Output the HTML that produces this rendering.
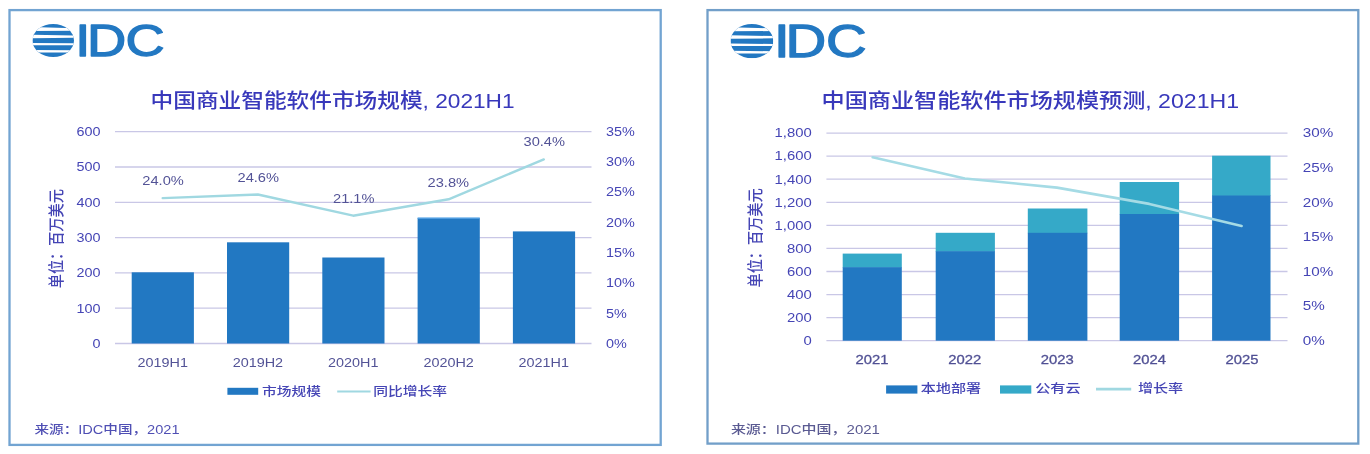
<!DOCTYPE html>
<html lang="zh-CN"><head><meta charset="utf-8"><title>IDC 中国商业智能软件市场</title>
<style>html,body{margin:0;padding:0;background:#fff}body{width:1370px;height:454px;overflow:hidden}svg{display:block}text{font-family:'Liberation Sans', 'Noto Sans CJK SC', sans-serif;}</style>
</head><body>
<svg width="1370" height="454" viewBox="0 0 1370 454" font-family='"Liberation Sans", "Noto Sans CJK SC", sans-serif'>
<defs><filter id="soft" x="-2%" y="-2%" width="104%" height="104%"><feGaussianBlur stdDeviation="0.7"/></filter></defs>
<rect width="1370" height="454" fill="#fff"/>
<g filter="url(#soft)">
<rect x="9.50" y="10.10" width="651.20" height="434.80" fill="#fff" stroke="#72a4d2" stroke-width="2.3"/>
<clipPath id="g32"><ellipse cx="53.2" cy="40.5" rx="20.8" ry="16.5"/></clipPath>
<g clip-path="url(#g32)">
<rect x="32.5" y="24" width="41.5" height="33" fill="#2478c2"/>
<polygon points="31.5,27.04 75.0,28.19 75.0,30.77 31.5,31.09" fill="#fff"/>
<polygon points="31.5,34.73 75.0,35.62 75.0,37.86 31.5,38.36" fill="#fff"/>
<polygon points="31.5,42.88 75.0,43.24 75.0,45.19 31.5,45.28" fill="#fff"/>
<polygon points="31.5,49.91 75.0,50.27 75.0,52.55 31.5,52.55" fill="#fff"/>
</g>
<text transform="translate(0,55.85) scale(1.21,1)" x="62.30 71.84 103.81" y="0" font-size="44.91" fill="#2478c2" stroke="#2478c2" stroke-width="1.3" stroke-linejoin="round">IDC</text>
<text x="150.6" y="107.6" font-size="20" fill="#3838bb" font-weight="500" textLength="364.0" lengthAdjust="spacingAndGlyphs" text-anchor="start">中国商业智能软件市场规模, 2021H1</text>
<line x1="115" x2="591.5" y1="343.5" y2="343.5" stroke="#c9c7e6" stroke-width="1.3"/>
<text transform="translate(100.6,347.8) scale(1.2,1)" font-size="12" fill="#4545b5" text-anchor="end">0</text>
<line x1="115" x2="591.5" y1="308.2" y2="308.2" stroke="#c9c7e6" stroke-width="1.3"/>
<text transform="translate(100.6,312.5) scale(1.2,1)" font-size="12" fill="#4545b5" text-anchor="end">100</text>
<line x1="115" x2="591.5" y1="272.9" y2="272.9" stroke="#c9c7e6" stroke-width="1.3"/>
<text transform="translate(100.6,277.2) scale(1.2,1)" font-size="12" fill="#4545b5" text-anchor="end">200</text>
<line x1="115" x2="591.5" y1="237.6" y2="237.6" stroke="#c9c7e6" stroke-width="1.3"/>
<text transform="translate(100.6,241.9) scale(1.2,1)" font-size="12" fill="#4545b5" text-anchor="end">300</text>
<line x1="115" x2="591.5" y1="202.3" y2="202.3" stroke="#c9c7e6" stroke-width="1.3"/>
<text transform="translate(100.6,206.6) scale(1.2,1)" font-size="12" fill="#4545b5" text-anchor="end">400</text>
<line x1="115" x2="591.5" y1="167.0" y2="167.0" stroke="#c9c7e6" stroke-width="1.3"/>
<text transform="translate(100.6,171.3) scale(1.2,1)" font-size="12" fill="#4545b5" text-anchor="end">500</text>
<line x1="115" x2="591.5" y1="131.7" y2="131.7" stroke="#c9c7e6" stroke-width="1.3"/>
<text transform="translate(100.6,136.0) scale(1.2,1)" font-size="12" fill="#4545b5" text-anchor="end">600</text>
<text transform="translate(606.0,347.8) scale(1.2,1)" font-size="12" fill="#4545b5" text-anchor="start">0%</text>
<text transform="translate(606.0,317.5) scale(1.2,1)" font-size="12" fill="#4545b5" text-anchor="start">5%</text>
<text transform="translate(606.0,287.2) scale(1.2,1)" font-size="12" fill="#4545b5" text-anchor="start">10%</text>
<text transform="translate(606.0,256.9) scale(1.2,1)" font-size="12" fill="#4545b5" text-anchor="start">15%</text>
<text transform="translate(606.0,226.7) scale(1.2,1)" font-size="12" fill="#4545b5" text-anchor="start">20%</text>
<text transform="translate(606.0,196.4) scale(1.2,1)" font-size="12" fill="#4545b5" text-anchor="start">25%</text>
<text transform="translate(606.0,166.1) scale(1.2,1)" font-size="12" fill="#4545b5" text-anchor="start">30%</text>
<text transform="translate(606.0,135.8) scale(1.2,1)" font-size="12" fill="#4545b5" text-anchor="start">35%</text>
<rect x="131.7" y="272.3" width="62.2" height="71.2" fill="#2478c2"/>
<rect x="227.0" y="242.3" width="62.2" height="101.2" fill="#2478c2"/>
<rect x="322.3" y="257.5" width="62.2" height="86.0" fill="#2478c2"/>
<rect x="417.6" y="218.0" width="62.2" height="125.5" fill="#2478c2"/>
<rect x="417.6" y="217.4" width="62.2" height="1.4" fill="#5aa6e6"/>
<rect x="512.9" y="231.4" width="62.2" height="112.1" fill="#2478c2"/>
<polyline fill="none" stroke="#a0d8e1" stroke-width="2.4" stroke-linejoin="round" stroke-linecap="round" points="162.7,198.1 257.9,194.5 353.2,215.7 448.6,199.3 543.8,159.4"/>
<text x="142.3" y="184.8" font-size="12" fill="#525296" textLength="41.5" lengthAdjust="spacingAndGlyphs" text-anchor="start">24.0%</text>
<text x="237.5" y="181.5" font-size="12" fill="#525296" textLength="41.5" lengthAdjust="spacingAndGlyphs" text-anchor="start">24.6%</text>
<text x="333.0" y="203.0" font-size="12" fill="#525296" textLength="41.5" lengthAdjust="spacingAndGlyphs" text-anchor="start">21.1%</text>
<text x="427.6" y="186.7" font-size="12" fill="#525296" textLength="41.5" lengthAdjust="spacingAndGlyphs" text-anchor="start">23.8%</text>
<text x="523.5" y="146.2" font-size="12" fill="#525296" textLength="41.5" lengthAdjust="spacingAndGlyphs" text-anchor="start">30.4%</text>
<text transform="translate(162.7,366.5) scale(1.2,1)" font-size="12" fill="#525296" text-anchor="middle">2019H1</text>
<text transform="translate(257.9,366.5) scale(1.2,1)" font-size="12" fill="#525296" text-anchor="middle">2019H2</text>
<text transform="translate(353.2,366.5) scale(1.2,1)" font-size="12" fill="#525296" text-anchor="middle">2020H1</text>
<text transform="translate(448.6,366.5) scale(1.2,1)" font-size="12" fill="#525296" text-anchor="middle">2020H2</text>
<text transform="translate(543.8,366.5) scale(1.2,1)" font-size="12" fill="#525296" text-anchor="middle">2021H1</text>
<text transform="translate(62.3,288.2) rotate(-90) scale(1.09,1.2)" font-size="13" font-weight="500" fill="#4545b5">单位：百万美元</text>
<rect x="227.4" y="387.8" width="30.8" height="7" fill="#2478c2"/>
<text x="262.0" y="395.6" font-size="12" fill="#4545b5" font-weight="500" textLength="59.0" lengthAdjust="spacingAndGlyphs" text-anchor="start">市场规模</text>
<line x1="337.2" x2="370.6" y1="391.6" y2="391.6" stroke="#a0d8e1" stroke-width="2"/>
<text x="373.2" y="395.6" font-size="12" fill="#4545b5" font-weight="500" textLength="74.0" lengthAdjust="spacingAndGlyphs" text-anchor="start">同比增长率</text>
<text x="34.5" y="434.3" font-size="12" fill="#5050b4" font-weight="500" textLength="145.0" lengthAdjust="spacingAndGlyphs" text-anchor="start">来源：IDC中国，2021</text>
<rect x="707.50" y="10.10" width="650.80" height="433.50" fill="#fff" stroke="#729fc9" stroke-width="2.3"/>
<clipPath id="g730"><ellipse cx="751.9" cy="41.1" rx="21.4" ry="17.1"/></clipPath>
<g clip-path="url(#g730)">
<rect x="730.5" y="24" width="42.7" height="34.2" fill="#2478c2"/>
<polygon points="729.5,27.15 774.2,28.34 774.2,31.01 729.5,31.35" fill="#fff"/>
<polygon points="729.5,35.12 774.2,36.04 774.2,38.36 729.5,38.88" fill="#fff"/>
<polygon points="729.5,43.56 774.2,43.94 774.2,45.96 729.5,46.06" fill="#fff"/>
<polygon points="729.5,50.85 774.2,51.22 774.2,53.58 729.5,53.58" fill="#fff"/>
</g>
<text transform="translate(0,56.95) scale(1.22,1)" x="634.51 643.83 676.98" y="0" font-size="46.22" fill="#2478c2" stroke="#2478c2" stroke-width="1.3" stroke-linejoin="round">IDC</text>
<text x="821.6" y="108.2" font-size="20.4" fill="#3838bb" font-weight="500" textLength="417.5" lengthAdjust="spacingAndGlyphs" text-anchor="start">中国商业智能软件市场规模预测, 2021H1</text>
<line x1="826.4" x2="1287.5" y1="340.7" y2="340.7" stroke="#c9c7e6" stroke-width="1.3"/>
<text transform="translate(811.8,345.0) scale(1.24,1)" font-size="12" fill="#4545b5" text-anchor="end">0</text>
<line x1="826.4" x2="1287.5" y1="317.6" y2="317.6" stroke="#c9c7e6" stroke-width="1.3"/>
<text transform="translate(811.8,321.9) scale(1.24,1)" font-size="12" fill="#4545b5" text-anchor="end">200</text>
<line x1="826.4" x2="1287.5" y1="294.6" y2="294.6" stroke="#c9c7e6" stroke-width="1.3"/>
<text transform="translate(811.8,298.9) scale(1.24,1)" font-size="12" fill="#4545b5" text-anchor="end">400</text>
<line x1="826.4" x2="1287.5" y1="271.5" y2="271.5" stroke="#c9c7e6" stroke-width="1.3"/>
<text transform="translate(811.8,275.8) scale(1.24,1)" font-size="12" fill="#4545b5" text-anchor="end">600</text>
<line x1="826.4" x2="1287.5" y1="248.4" y2="248.4" stroke="#c9c7e6" stroke-width="1.3"/>
<text transform="translate(811.8,252.7) scale(1.24,1)" font-size="12" fill="#4545b5" text-anchor="end">800</text>
<line x1="826.4" x2="1287.5" y1="225.3" y2="225.3" stroke="#c9c7e6" stroke-width="1.3"/>
<text transform="translate(811.8,229.7) scale(1.24,1)" font-size="12" fill="#4545b5" text-anchor="end">1,000</text>
<line x1="826.4" x2="1287.5" y1="202.3" y2="202.3" stroke="#c9c7e6" stroke-width="1.3"/>
<text transform="translate(811.8,206.6) scale(1.24,1)" font-size="12" fill="#4545b5" text-anchor="end">1,200</text>
<line x1="826.4" x2="1287.5" y1="179.2" y2="179.2" stroke="#c9c7e6" stroke-width="1.3"/>
<text transform="translate(811.8,183.5) scale(1.24,1)" font-size="12" fill="#4545b5" text-anchor="end">1,400</text>
<line x1="826.4" x2="1287.5" y1="156.1" y2="156.1" stroke="#c9c7e6" stroke-width="1.3"/>
<text transform="translate(811.8,160.4) scale(1.24,1)" font-size="12" fill="#4545b5" text-anchor="end">1,600</text>
<line x1="826.4" x2="1287.5" y1="133.1" y2="133.1" stroke="#c9c7e6" stroke-width="1.3"/>
<text transform="translate(811.8,137.4) scale(1.24,1)" font-size="12" fill="#4545b5" text-anchor="end">1,800</text>
<text transform="translate(1302.8,345.0) scale(1.27,1)" font-size="12" fill="#4545b5" text-anchor="start">0%</text>
<text transform="translate(1302.8,310.4) scale(1.27,1)" font-size="12" fill="#4545b5" text-anchor="start">5%</text>
<text transform="translate(1302.8,275.8) scale(1.27,1)" font-size="12" fill="#4545b5" text-anchor="start">10%</text>
<text transform="translate(1302.8,241.2) scale(1.27,1)" font-size="12" fill="#4545b5" text-anchor="start">15%</text>
<text transform="translate(1302.8,206.6) scale(1.27,1)" font-size="12" fill="#4545b5" text-anchor="start">20%</text>
<text transform="translate(1302.8,172.0) scale(1.27,1)" font-size="12" fill="#4545b5" text-anchor="start">25%</text>
<text transform="translate(1302.8,137.4) scale(1.27,1)" font-size="12" fill="#4545b5" text-anchor="start">30%</text>
<rect x="842.7" y="253.6" width="59.1" height="14.1" fill="#36a9c8"/>
<rect x="842.7" y="267.2" width="59.1" height="73.5" fill="#2478c2"/>
<rect x="935.7" y="232.8" width="59.2" height="18.9" fill="#36a9c8"/>
<rect x="935.7" y="251.2" width="59.2" height="89.5" fill="#2478c2"/>
<rect x="1027.8" y="208.5" width="59.6" height="24.8" fill="#36a9c8"/>
<rect x="1027.8" y="232.8" width="59.6" height="107.9" fill="#2478c2"/>
<rect x="1119.7" y="182.0" width="59.4" height="32.5" fill="#36a9c8"/>
<rect x="1119.7" y="214.0" width="59.4" height="126.7" fill="#2478c2"/>
<rect x="1212.1" y="155.7" width="58.4" height="40.3" fill="#36a9c8"/>
<rect x="1212.1" y="195.5" width="58.4" height="145.2" fill="#2478c2"/>
<polyline fill="none" stroke="#a5dbe5" stroke-width="2.6" stroke-linejoin="round" stroke-linecap="round" points="872.7,157.3 964.8,178.5 1057.0,187.6 1149.3,203.9 1241.6,225.9"/>
<text transform="translate(872.0,364.1) scale(1.14,1)" font-size="13" fill="#505094" text-anchor="middle" stroke="#505094" stroke-width="0.3">2021</text>
<text transform="translate(964.8,364.1) scale(1.14,1)" font-size="13" fill="#505094" text-anchor="middle" stroke="#505094" stroke-width="0.3">2022</text>
<text transform="translate(1057.3,364.1) scale(1.14,1)" font-size="13" fill="#505094" text-anchor="middle" stroke="#505094" stroke-width="0.3">2023</text>
<text transform="translate(1149.5,364.1) scale(1.14,1)" font-size="13" fill="#505094" text-anchor="middle" stroke="#505094" stroke-width="0.3">2024</text>
<text transform="translate(1242.0,364.1) scale(1.14,1)" font-size="13" fill="#505094" text-anchor="middle" stroke="#505094" stroke-width="0.3">2025</text>
<text transform="translate(761.0,287.5) rotate(-90) scale(1.09,1.2)" font-size="13" font-weight="500" fill="#4545b5">单位：百万美元</text>
<rect x="886.1" y="385.4" width="31.3" height="8.2" fill="#2478c2"/>
<text x="920.7" y="393.4" font-size="12" fill="#4545b5" font-weight="500" textLength="60.5" lengthAdjust="spacingAndGlyphs" text-anchor="start">本地部署</text>
<rect x="1000" y="385.4" width="31.3" height="8.2" fill="#36a9c8"/>
<text x="1035.2" y="393.4" font-size="12" fill="#4545b5" font-weight="500" textLength="45.5" lengthAdjust="spacingAndGlyphs" text-anchor="start">公有云</text>
<line x1="1096" x2="1131.2" y1="389.2" y2="389.2" stroke="#a0d8e1" stroke-width="2.8"/>
<text x="1137.9" y="393.4" font-size="12" fill="#4545b5" font-weight="500" textLength="45.3" lengthAdjust="spacingAndGlyphs" text-anchor="start">增长率</text>
<text x="730.9" y="433.7" font-size="12" fill="#5a5a92" font-weight="500" textLength="149.0" lengthAdjust="spacingAndGlyphs" text-anchor="start">来源：IDC中国，2021</text>
</g>
</svg>
</body></html>
